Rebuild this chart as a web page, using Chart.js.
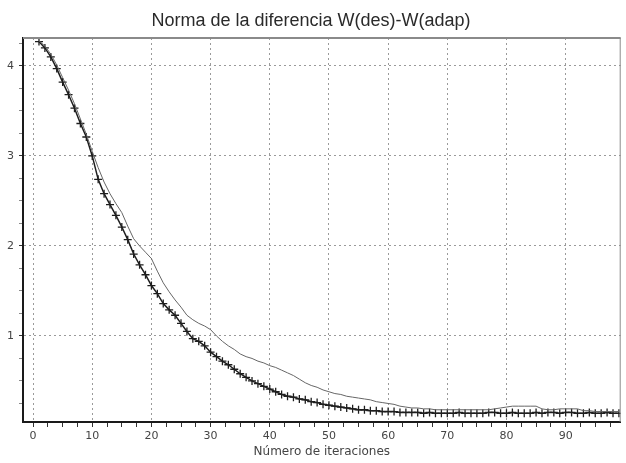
<!DOCTYPE html>
<html lang="es">
<head>
<meta charset="utf-8">
<title>Norma de la diferencia</title>
<script src="https://cdn.jsdelivr.net/npm/chart.js@4/dist/chart.umd.min.js"></script>
<style>
    html, body { margin: 0; padding: 0; background: #ffffff; }
    canvas { display: block; }
</style>
</head>
<body>
<canvas id="normaChart" width="626" height="463"></canvas>
<script>
// Datos (iteraciones 1..99)
const iteraciones = [];
for (let i = 1; i <= 99; i++) iteraciones.push(i);

// Curva sin marcadores
const normaLinea = [
    4.28, 4.22, 4.13, 4.01, 3.87, 3.73, 3.58, 3.41, 3.24, 3.05,
    2.87, 2.71, 2.58, 2.47, 2.37, 2.22, 2.08, 2.00, 1.93, 1.86,
    1.72, 1.59, 1.49, 1.40, 1.32, 1.23, 1.18, 1.14, 1.11, 1.07,
    1.00, 0.94, 0.89, 0.85, 0.80, 0.77, 0.75, 0.72, 0.70, 0.67,
    0.65, 0.62, 0.59, 0.56, 0.52, 0.48, 0.45, 0.43, 0.40, 0.38,
    0.36, 0.35, 0.33, 0.32, 0.31, 0.30, 0.29, 0.27, 0.26, 0.25,
    0.24, 0.22, 0.21, 0.20, 0.20, 0.19, 0.19, 0.18, 0.18, 0.18,
    0.18, 0.18, 0.18, 0.18, 0.18, 0.18, 0.18, 0.19, 0.20, 0.21,
    0.22, 0.22, 0.22, 0.22, 0.22, 0.19, 0.18, 0.18, 0.19, 0.19,
    0.19, 0.19, 0.17, 0.17, 0.16, 0.16, 0.16, 0.16, 0.16
];

// Curva con marcadores "+"
const normaCruces = [
    4.27, 4.20, 4.10, 3.97, 3.82, 3.68, 3.53, 3.36, 3.21, 3.00,
    2.74, 2.58, 2.46, 2.34, 2.21, 2.07, 1.91, 1.79, 1.68, 1.56,
    1.47, 1.36, 1.29, 1.23, 1.14, 1.05, 0.97, 0.94, 0.89, 0.82,
    0.77, 0.72, 0.68, 0.63, 0.58, 0.54, 0.50, 0.47, 0.44, 0.41,
    0.38, 0.35, 0.33, 0.32, 0.30, 0.29, 0.27, 0.26, 0.24, 0.23,
    0.22, 0.21, 0.20, 0.19, 0.18, 0.18, 0.17, 0.17, 0.16, 0.16,
    0.16, 0.15, 0.15, 0.15, 0.15, 0.14, 0.15, 0.14, 0.14, 0.14,
    0.14, 0.15, 0.14, 0.14, 0.14, 0.14, 0.15, 0.15, 0.14, 0.14,
    0.15, 0.14, 0.14, 0.14, 0.15, 0.14, 0.15, 0.15, 0.14, 0.15,
    0.15, 0.14, 0.14, 0.15, 0.14, 0.14, 0.15, 0.14, 0.14
];

// Marcas de los ejes
const xEtiquetas = [0, 10, 20, 30, 40, 50, 60, 70, 80, 90];
const yEtiquetas = [1, 2, 3, 4];
const xPasoMenor = 2.5;
const yPasoMenor = 0.25;

const titulo = 'Norma de la diferencia W(des)-W(adap)';
const tituloX = 'Número de iteraciones';

function marcasMenores(desde, hasta, paso) {
    const marcas = [];
    for (let v = desde; v <= hasta + 1e-9; v += paso) marcas.push({ value: Math.round(v * 100) / 100 });
    return marcas;
}

const esMayorX = v => xEtiquetas.includes(v);
const esMayorY = v => yEtiquetas.includes(v);

// Marco del area de dibujo (arriba y derecha en gris)
const marcoPlugin = {
    id: 'marco',
    afterDraw(chart) {
        const { ctx, chartArea } = chart;
        ctx.save();
        ctx.strokeStyle = '#8a8a8a';
        ctx.lineWidth = 2;
        ctx.beginPath();
        ctx.moveTo(chartArea.left, chartArea.top);
        ctx.lineTo(chartArea.right, chartArea.top);
        ctx.stroke();
        ctx.lineWidth = 1;
        ctx.beginPath();
        ctx.moveTo(chartArea.right - 0.5, chartArea.top);
        ctx.lineTo(chartArea.right - 0.5, chartArea.bottom);
        ctx.stroke();
        ctx.restore();
    }
};

const ctx = document.getElementById('normaChart').getContext('2d');
const normaChart = new Chart(ctx, {
    type: 'line',
    data: {
        datasets: [{
            label: 'W(des)-W(adap)',
            data: iteraciones.map((x, i) => ({ x: x, y: normaLinea[i] })),
            borderColor: '#666666',
            borderWidth: 1,
            pointRadius: 0,
            fill: false,
            tension: 0
        }, {
            label: 'W(des)-W(adap) +',
            data: iteraciones.map((x, i) => ({ x: x, y: normaCruces[i] })),
            borderColor: '#1e1e1e',
            borderWidth: 1.5,
            pointStyle: 'cross',
            pointRadius: 4,
            pointBorderColor: '#1e1e1e',
            pointBorderWidth: 1.3,
            fill: false,
            tension: 0
        }]
    },
    options: {
        responsive: false,
        animation: false,
        layout: { padding: { top: 0, right: 4, bottom: 0, left: 0 } },
        plugins: {
            legend: { display: false },
            tooltip: { enabled: false },
            title: {
                display: true,
                text: titulo,
                color: '#2a2a2a',
                font: { family: '"Liberation Sans", Arial, sans-serif', size: 18, weight: 'normal' },
                padding: { top: 10, bottom: 6.4 }
            }
        },
        scales: {
            x: {
                type: 'linear',
                min: -1.7,
                max: 99.3,
                afterBuildTicks: s => { s.ticks = marcasMenores(0, 97.5, xPasoMenor); },
                afterFit: s => { s.height = 41; },
                ticks: {
                    autoSkip: false,
                    maxRotation: 0,
                    padding: 3,
                    color: '#444444',
                    font: { family: '"DejaVu Sans", Verdana, sans-serif', size: 11 },
                    callback: v => (esMayorX(v) ? String(v) : '')
                },
                grid: {
                    color: c => (c.tick && esMayorX(c.tick.value) ? '#9a9a9a' : 'rgba(0,0,0,0)'),
                    lineWidth: 1,
                    tickColor: '#333333',
                    tickLength: 5
                },
                border: { display: true, color: '#1a1a1a', width: 2, dash: [2, 3] },
                title: {
                    display: true,
                    text: tituloX,
                    color: '#444444',
                    font: { family: '"DejaVu Sans", Verdana, sans-serif', size: 12 },
                    padding: { top: 0, bottom: 4 }
                }
            },
            y: {
                type: 'linear',
                min: 0.044,
                max: 4.31,
                afterBuildTicks: s => { s.ticks = marcasMenores(0.25, 4.25, yPasoMenor); },
                afterFit: s => { s.width = 23; },
                ticks: {
                    autoSkip: false,
                    padding: 5,
                    color: '#444444',
                    font: { family: '"DejaVu Sans", Verdana, sans-serif', size: 11 },
                    callback: v => (esMayorY(v) ? String(v) : '')
                },
                grid: {
                    color: c => (c.tick && esMayorY(c.tick.value) ? '#9a9a9a' : 'rgba(0,0,0,0)'),
                    lineWidth: 1,
                    tickColor: c => (c.tick && esMayorY(c.tick.value) ? '#333333' : '#888888'),
                    tickLength: 4
                },
                border: { display: true, color: '#1a1a1a', width: 2, dash: [2, 3] }
            }
        }
    },
    plugins: [marcoPlugin]
});
</script>
</body>
</html>
